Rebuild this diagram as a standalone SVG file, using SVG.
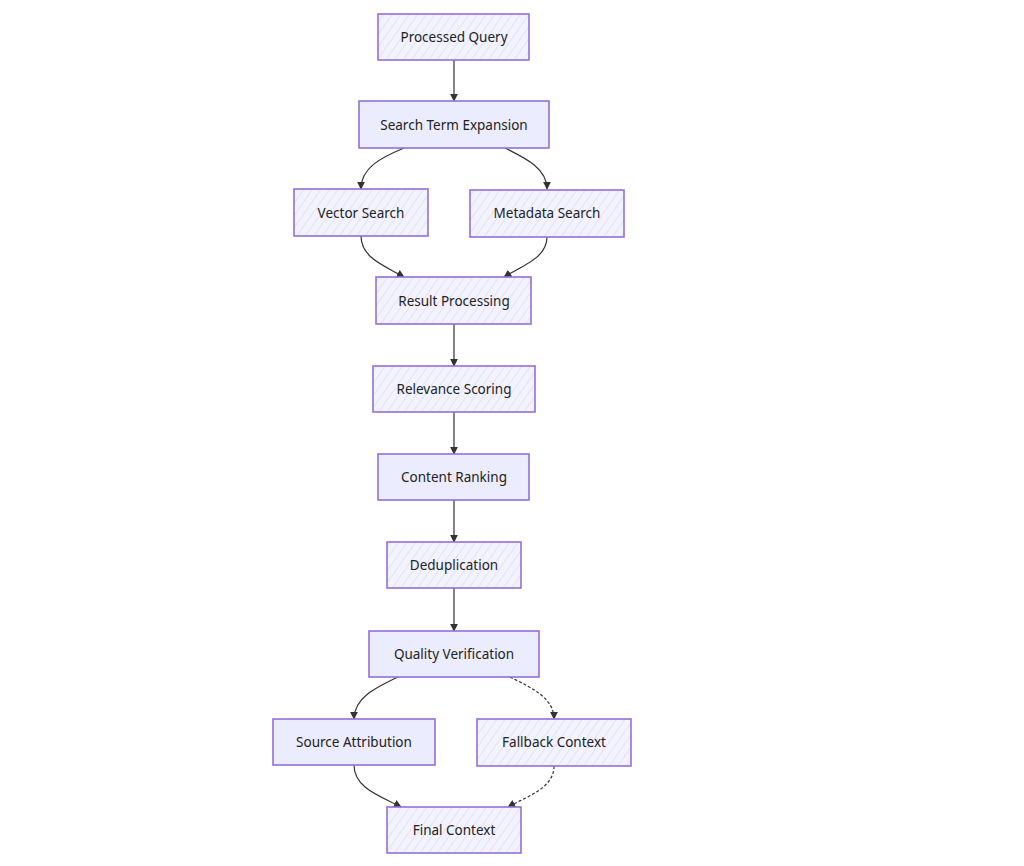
<svg xmlns="http://www.w3.org/2000/svg" width="1024" height="866" viewBox="0 0 1024 866">
<defs>
<pattern id="hatch" patternUnits="userSpaceOnUse" width="7" height="7" patternTransform="rotate(35)">
<rect width="7" height="7" fill="#F3F3FF"/>
<line x1="0" y1="0" x2="0" y2="7" stroke="#DFDCF7" stroke-width="1.5"/>
</pattern>
<marker id="arr" viewBox="0 0 10 10" refX="9" refY="5" markerWidth="8" markerHeight="8" orient="auto-start-reverse" markerUnits="userSpaceOnUse">
<path d="M0,0 L10,5 L0,10 z" fill="#333"/>
</marker>
</defs>
<style>
.box{fill:url(#hatch);stroke:#9370DB;stroke-width:1.6}
.solid{fill:#ECECFF}
.lbl{font-family:"Noto Sans","Open Sans",sans-serif;font-size:13.5px;fill:#222;text-anchor:middle;dominant-baseline:central}
.e{fill:none;stroke:#333;stroke-width:1.2;marker-end:url(#arr)}
.d{stroke-dasharray:3,2}
</style>
<rect width="1024" height="866" fill="#fff"/>
<g id="connectors">
<path class="e" d="M454,60 L454,101"/>
<path class="e" d="M404,148 C380,158 361,168 361,189"/>
<path class="e" d="M505,148 C525,158 547,168 547,189"/>
<path class="e" d="M361,236 C361,258 385,266 404,277"/>
<path class="e" d="M547,237 C547,258 522,266 504,277"/>
<path class="e" d="M454,324 L454,366"/>
<path class="e" d="M454,412 L454,454"/>
<path class="e" d="M454,500 L454,542"/>
<path class="e" d="M454,588 L454,631"/>
<path class="e" d="M398,677 C375,688 354,698 354,719"/>
<path class="e d" d="M510,677 C532,688 554,698 554,719"/>
<path class="e" d="M354,765 C354,788 380,796 401,807"/>
<path class="e d" d="M554,766 C554,788 528,796 508,807"/>
</g>
<g id="n1"><rect class="box" x="378" y="14" width="151" height="46"/><text class="lbl" x="454" y="37">Processed Query</text></g>
<g id="n2"><rect class="box solid" x="359" y="101" width="190" height="47"/><text class="lbl" x="454" y="125">Search Term Expansion</text></g>
<g id="n3"><rect class="box" x="294" y="189" width="134" height="47"/><text class="lbl" x="361" y="213">Vector Search</text></g>
<g id="n4"><rect class="box" x="470" y="190" width="154" height="47"/><text class="lbl" x="547" y="213">Metadata Search</text></g>
<g id="n5"><rect class="box" x="376" y="277" width="155" height="47"/><text class="lbl" x="454" y="301">Result Processing</text></g>
<g id="n6"><rect class="box" x="373" y="366" width="162" height="46"/><text class="lbl" x="454" y="389">Relevance Scoring</text></g>
<g id="n7"><rect class="box solid" x="378" y="454" width="151" height="46"/><text class="lbl" x="454" y="477">Content Ranking</text></g>
<g id="n8"><rect class="box" x="387" y="542" width="134" height="46"/><text class="lbl" x="454" y="565">Deduplication</text></g>
<g id="n9"><rect class="box solid" x="369" y="631" width="170" height="46"/><text class="lbl" x="454" y="654">Quality Verification</text></g>
<g id="n10"><rect class="box solid" x="273" y="719" width="162" height="46"/><text class="lbl" x="354" y="742">Source Attribution</text></g>
<g id="n11"><rect class="box" x="477" y="719" width="154" height="47"/><text class="lbl" x="554" y="742">Fallback Context</text></g>
<g id="n12"><rect class="box" x="387" y="807" width="134" height="46"/><text class="lbl" x="454" y="830">Final Context</text></g>
</svg>
